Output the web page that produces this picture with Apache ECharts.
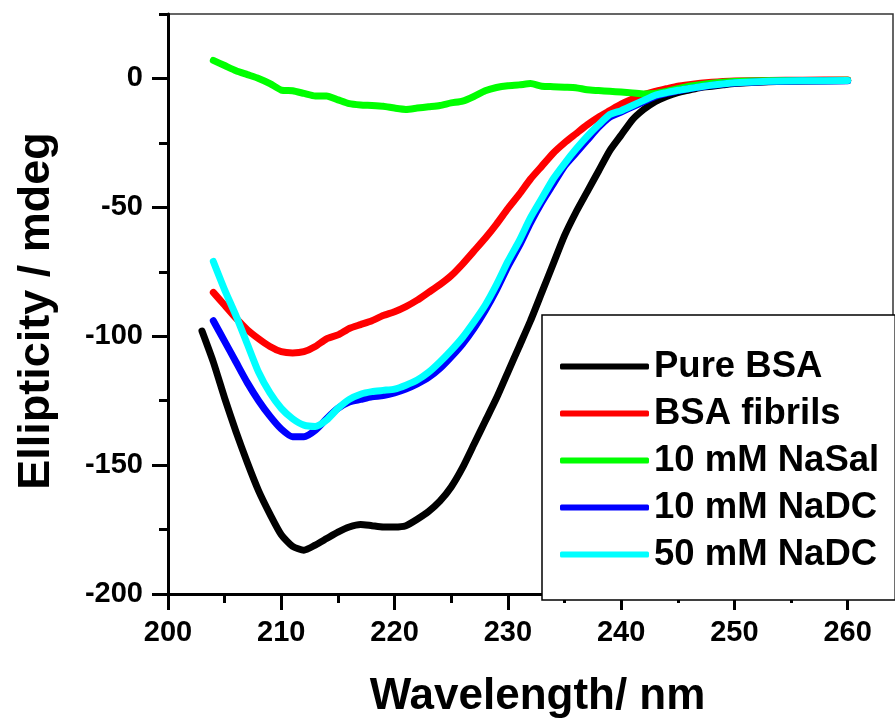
<!DOCTYPE html>
<html style="background-color: #fff;">
<head>
<meta charset="utf-8">
<script type="text/javascript" src="https://cdn.jsdelivr.net/npm/echarts@6.0.0/dist/echarts.min.js"></script>
<style>
  html, body {margin: 0; padding: 0; background: #fff;}
  #container {width: 895px; height: 719px;}
</style>
</head>
<body>
<div id="container"></div>
<script type="text/javascript">
// wavelength (nm) shared by all curves
var wavelengths = [203, 204, 205, 206, 207, 208, 209, 210, 211, 212, 213, 214, 215, 216, 217, 218, 219, 220,
  221, 222, 223, 224, 225, 226, 227, 228, 229, 230, 231, 232, 233, 234, 235, 236, 237, 238, 239, 240,
  241, 242, 243, 244, 245, 246, 247, 248, 249, 250, 253, 256, 260];

var pureBSA = [-98, -110, -124, -137, -149, -160, -169, -177, -181.5, -183, -181, -178.5, -176, -174, -173, -173.5, -174, -174,
  -173.5, -171, -168, -164, -158.5, -151, -142, -133, -124, -114, -104, -94, -83, -72, -61, -52, -44, -36, -28, -22,
  -16, -12, -9, -7, -5.5, -4.5, -3.5, -3, -2.5, -2, -1.3, -1, -0.8];

var bsaFibrils = [null, -83, -88, -93, -97.5, -101, -104, -106, -106.5, -106, -104, -101, -99.5, -97, -95.5, -94, -92, -90.5,
  -88.5, -86, -83, -80, -76.5, -72, -67, -62, -56.5, -50.5, -45, -39, -34, -29, -25, -21.5, -18, -15, -12.5, -10,
  -8, -6.3, -5, -4, -3, -2.4, -1.9, -1.5, -1.2, -1, -0.8, -0.7, -0.6];

var naSal10 = [null, 7, 5, 3, 1.5, 0, -2, -4.5, -4.8, -5.8, -6.8, -6.8, -8.3, -9.8, -10.3, -10.5, -10.8, -11.5,
  -12, -11.5, -11, -10.5, -9.5, -8.8, -7, -4.8, -3.5, -2.8, -2.5, -2, -3, -3.2, -3.4, -3.6, -4.4, -4.7, -5, -5.3,
  -5.6, -6, -5.8, -5, -4, -3, -2.4, -1.9, -1.5, -1.2, -0.9, -0.8, -0.7];

var naDC10 = [null, -94, -102, -110, -118, -125, -131, -136, -139, -139, -136.5, -132, -128, -125.5, -124.5, -123.5, -123, -122,
  -120.5, -118.5, -116, -112.5, -108, -103, -97, -90, -82, -73, -65, -56, -48, -41, -34, -29, -24, -19, -15, -13,
  -11, -9, -7, -5.8, -4.8, -4, -3.3, -2.7, -2.2, -1.8, -1.2, -1, -0.9];

var naDC50 = [null, -71, -82, -92, -103, -114, -122, -128, -132, -134.5, -135, -132.5, -128, -124.5, -122.5, -121.5, -121, -120.5,
  -119, -117, -114, -110, -105.5, -100.5, -94.5, -88, -80, -71, -63, -54, -46.5, -39, -33, -27.5, -22.5, -18, -14, -12.5,
  -10.5, -8.5, -6.5, -5.5, -4.6, -3.9, -3.2, -2.6, -2.1, -1.7, -1.1, -0.9, -0.8];

var seriesNames = ['Pure BSA', 'BSA fibrils', '10 mM NaSal', '10 mM NaDC', '50 mM NaDC'];
var seriesValues = [pureBSA, bsaFibrils, naSal10, naDC10, naDC50];
var seriesColors = ['#000000', '#ff0000', '#00ff00', '#0000ff', '#00ffff'];

var xMajor = [200, 210, 220, 230, 240, 250, 260];
var xMinor = [205, 215, 225, 235, 245, 255];
var yMajor = [-200, -150, -100, -50, 0];
var yMinor = [-175, -125, -75, -25, 25];

var font = "'Liberation Sans', Arial, sans-serif";

function pairs(vals) {
  var out = [];
  for (var i = 0; i < wavelengths.length; i++) {
    if (vals[i] !== null) out.push([wavelengths[i], vals[i]]);
  }
  return out;
}

var series = [];
for (var k = 0; k < seriesNames.length; k++) {
  series.push({
    name: seriesNames[k],
    type: 'line',
    xAxisIndex: 0,
    yAxisIndex: 0,
    data: pairs(seriesValues[k]),
    showSymbol: false,
    smooth: 0.2,
    color: seriesColors[k],
    lineStyle: {width: 7, color: seriesColors[k], cap: 'round', join: 'round'},
    animation: false
  });
}

var dom = document.getElementById("container");
var myChart = echarts.init(dom, null, {renderer: 'canvas'});

var option = {
  backgroundColor: '#fff',
  animation: false,
  grid: {
    left: 168, right: 2, top: 14, bottom: 125,
    outerBoundsMode: 'none',
    show: true, borderColor: '#333', borderWidth: 1.5, backgroundColor: 'transparent'
  },
  legend: {
    data: seriesNames,
    orient: 'vertical',
    left: 542, top: 315,
    icon: 'roundRect',
    itemWidth: 89, itemHeight: 6, itemGap: 6, itemTextGap: 10,
    padding: [31, 16, 25, 18],
    borderColor: '#000', borderWidth: 1.5,
    backgroundColor: '#fff',
    textStyle: {fontFamily: font, fontWeight: 'bold', fontSize: 36.5, color: '#000', lineHeight: 41}
  },
  xAxis: [{
    type: 'value', min: 200, max: 264,
    name: 'Wavelength/ nm', nameLocation: 'middle', nameGap: 81,
    nameTextStyle: {fontFamily: font, fontWeight: 'bold', fontSize: 44, color: '#000', padding: [0, 0, 0, 14]},
    axisLine: {onZero: false, lineStyle: {color: '#000', width: 3}},
    axisTick: {customValues: xMajor, length: 16, lineStyle: {color: '#000', width: 3}},
    axisLabel: {customValues: xMajor, margin: 24, fontFamily: font, fontWeight: 'bold', fontSize: 29, color: '#000'},
    splitLine: {show: false}
  }, {
    type: 'value', min: 200, max: 264, position: 'bottom',
    axisLine: {show: false, onZero: false},
    axisTick: {customValues: xMinor, length: 9, lineStyle: {color: '#000', width: 3}},
    axisLabel: {show: false},
    splitLine: {show: false}
  }],
  yAxis: [{
    type: 'value', min: -200, max: 25,
    name: 'Ellipticity / mdeg', nameLocation: 'middle', nameGap: 109,
    nameTextStyle: {fontFamily: font, fontWeight: 'bold', fontSize: 45, color: '#000', padding: [0, 14, 0, 0]},
    axisLine: {show: true, onZero: false, lineStyle: {color: '#000', width: 3}},
    axisTick: {show: true, customValues: yMajor, length: 16, lineStyle: {color: '#000', width: 3}},
    axisLabel: {customValues: yMajor, margin: 25, fontFamily: font, fontWeight: 'bold', fontSize: 29, color: '#000'},
    splitLine: {show: false}
  }, {
    type: 'value', min: -200, max: 25, position: 'left',
    axisLine: {show: false, onZero: false},
    axisTick: {show: true, customValues: yMinor, length: 9, lineStyle: {color: '#000', width: 3}},
    axisLabel: {show: false},
    splitLine: {show: false}
  }],
  series: series
};

myChart.setOption(option);
</script>
</body>
</html>
